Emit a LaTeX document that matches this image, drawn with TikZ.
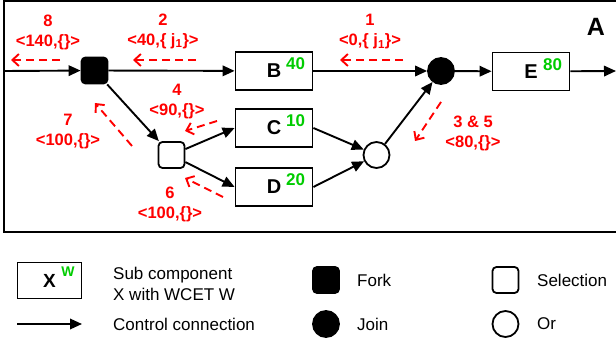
\documentclass[tikz,border=0pt]{standalone}
\usepackage{fontspec}
\setmainfont{Liberation Sans}
\usetikzlibrary{arrows.meta,calc}
\definecolor{wgreen}{RGB}{0,204,0}
\definecolor{lred}{RGB}{255,0,0}
\begin{document}
\begin{tikzpicture}[x=1pt,y=-1pt,
 comp/.style={draw,line width=1.8pt,minimum width=77pt,minimum height=38pt,inner sep=0pt,font=\fontsize{20}{24}\selectfont\bfseries},
 wcet/.style={text=wgreen,font=\fontsize{17}{20}\selectfont\bfseries,inner sep=0pt},
 forknode/.style={fill=black,draw,line width=1.8pt,rounded corners=4pt,minimum size=26pt,inner sep=0pt},
 selnode/.style={forknode,fill=white},
 joinnode/.style={circle,fill=black,draw,line width=1.8pt,minimum size=26pt,inner sep=0pt},
 ornode/.style={joinnode,fill=white},
 ctrl/.style={line width=1.9pt,-{Triangle[length=12pt,width=10.5pt]}},
 ret/.style={draw=lred,line width=1.9pt,dash pattern=on 8pt off 5pt,-{Straight Barb[length=6.5pt,width=12pt]}},
 lab/.style={text=lred,font=\fontsize{16.5}{20}\selectfont\bfseries,align=center,inner sep=0pt},
 legtxt/.style={font=\fontsize{17}{21}\selectfont,anchor=west,align=left,inner sep=0pt}]
\useasboundingbox (0,0) rectangle (616,347);
% frame
\draw[line width=2pt] (4,1) rectangle (640,232);
\node[font=\fontsize{25}{28}\selectfont\bfseries,inner sep=0pt] (Alab) at (596,27) {A};
% nodes
\node[forknode] (F) at (94.5,70.5) {};
\node[comp] (B) at (274,71) {B};
\node[comp] (C) at (274,128) {C};
\node[comp] (D) at (274,187) {D};
\node[comp] (E) at (531,71.5) {E};
\node[joinnode] (J) at (441,71) {};
\node[ornode] (O) at (376.5,155) {};
\node[selnode] (S) at (171.5,155) {};
\node[wcet] at ([xshift=21.5pt,yshift=7pt]B.center) {40};
\node[wcet] at ([xshift=21.5pt,yshift=7pt]C.center) {10};
\node[wcet] at ([xshift=21.5pt,yshift=7pt]D.center) {20};
\node[wcet] at ([xshift=21.5pt,yshift=7pt]E.center) {80};
\coordinate (in) at (4,71);
\coordinate (out) at (616,71);
% control connections
\draw[ctrl] (in) -- (F);
\draw[ctrl] (F) -- (B);
\draw[ctrl] (B) -- (J);
\draw[ctrl] (J) -- (E);
\draw[ctrl] (E) -- (out);
\draw[ctrl] (F) -- (S);
\draw[ctrl] (S) -- (C.west);
\draw[ctrl] (S) -- (D.west);
\draw[ctrl] (C.east) -- (O);
\draw[ctrl] (D.east) -- (O);
\draw[ctrl] (O) -- (J);
% return labels
\node[lab] (l8) at (48,32) {8\\<140,\{\}>};
\node[lab] (l2) at (163,31) {2\\<40,\{ j\textsubscript{1}\}>};
\node[lab] (l1) at (370,32) {1\\<0,\{ j\textsubscript{1}\}>};
\node[lab] (l4) at (177,102) {4\\<90,\{\}>};
\node[lab] (l7) at (68,132) {7\\<100,\{\}>};
\node[lab] (l6) at (170,204) {6\\<100,\{\}>};
\node[lab] (l35) at (473,133) {3 \& 5\\<80,\{\}>};
% dashed return arrows
\coordinate (a8t) at (60,60); \coordinate (a8h) at (11,60);
\coordinate (a2t) at (196,60); \coordinate (a2h) at (133,60);
\coordinate (a1t) at (403,60); \coordinate (a1h) at (340,60);
\coordinate (a4t) at (217,121); \coordinate (a4h) at (185,131);
\coordinate (a7t) at (132,146); \coordinate (a7h) at (95,103);
\coordinate (a6t) at (223,197); \coordinate (a6h) at (185,178);
\coordinate (a3t) at (441,102); \coordinate (a3h) at (415,141);
\draw[ret] (a8t) -- (a8h);
\draw[ret] (a2t) -- (a2h);
\draw[ret] (a1t) -- (a1h);
\draw[ret] (a4t) -- (a4h);
\draw[ret] (a7t) -- (a7h);
\draw[ret] (a6t) -- (a6h);
\draw[ret] (a3t) -- (a3h);
% legend
\node[comp,minimum width=64pt,minimum height=36pt,font=\fontsize{19}{22}\selectfont\bfseries] (LX) at (49.5,280.5) {X};
\node[wcet,font=\fontsize{14}{16}\selectfont\bfseries] at ([xshift=18.5pt,yshift=8.5pt]LX.center) {W};
\node[legtxt] (LXt) at (113,283.5) {Sub component\\X with WCET W};
\coordinate (La1) at (17,324); \coordinate (La2) at (82,324);
\draw[ctrl] (La1) -- (La2);
\node[legtxt] (Lat) at (113,324) {Control connection};
\node[forknode] (LF) at (326,280) {};
\node[legtxt] (LFt) at (357,280) {Fork};
\node[joinnode] (LJ) at (326,324) {};
\node[legtxt] (LJt) at (357,324) {Join};
\node[selnode] (LS) at (505.5,280) {};
\node[legtxt] (LSt) at (537,280) {Selection};
\node[ornode] (LO) at (505.5,324) {};
\node[legtxt] (LOt) at (537,324) {Or};
\end{tikzpicture}
\end{document}
